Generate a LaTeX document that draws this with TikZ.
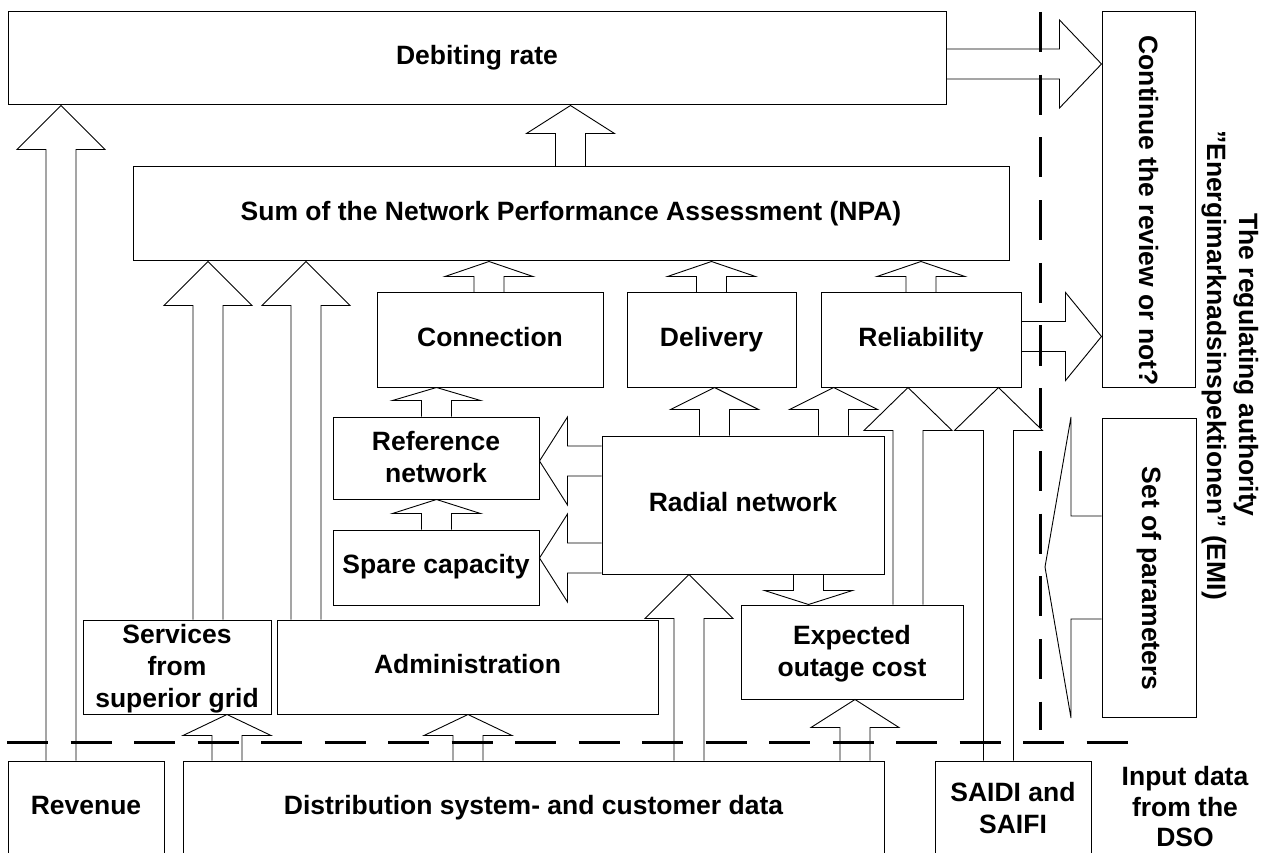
\documentclass[tikz,border=0pt]{standalone}
\usepackage{fontspec}
\setmainfont{Liberation Sans}
\usepackage{graphicx}
\usetikzlibrary{calc}

\newcommand\blkup[4]{\draw[blk] let \p1=(#2), \p2=(#3) in
    (#1-15,\y1) -- (#1-15,\y2-#4pt) -- (#1-44,\y2-#4pt) -- (#1,\y2)
    -- (#1+44,\y2-#4pt) -- (#1+15,\y2-#4pt) -- (#1+15,\y1);}
\newcommand\blkdown[4]{\draw[blk] let \p1=(#2), \p2=(#3) in
    (#1-15,\y1) -- (#1-15,\y2+#4pt) -- (#1-44,\y2+#4pt) -- (#1,\y2)
    -- (#1+44,\y2+#4pt) -- (#1+15,\y2+#4pt) -- (#1+15,\y1);}
\newcommand\blkleft[4]{\draw[blk] let \p1=(#2), \p2=(#3) in
    (\x1,#1-15) -- (\x2+#4pt,#1-15) -- (\x2+#4pt,#1-44) -- (\x2,#1)
    -- (\x2+#4pt,#1+44) -- (\x2+#4pt,#1+15) -- (\x1,#1+15);}
\newcommand\blkright[4]{\draw[blk] let \p1=(#2), \p2=(#3) in
    (\x1,#1-15) -- (\x2-#4pt,#1-15) -- (\x2-#4pt,#1-44) -- (\x2,#1)
    -- (\x2-#4pt,#1+44) -- (\x2-#4pt,#1+15) -- (\x1,#1+15);}
\newcommand\topgap{\rule{0pt}{27.5pt}}

\begin{document}
\begin{tikzpicture}
            [x=1pt, y=-1pt,
            lbl/.style={inner sep=0pt, align=center, font=\fontsize{26.5}{32}\selectfont\bfseries,
                execute at begin node=\strut, execute at end node={\vrule width 0pt depth 6.5pt}},
            box/.style={lbl, draw=black, line width=1pt},
            blk/.style={draw=black, line width=0.9pt, line join=miter},
            sep/.style={draw=black, line width=3pt}]

            \useasboundingbox (0,0) rectangle (1262,853);

            \node[box, minimum width=938pt, minimum height=93pt] (debit) at (477,58.5) {Debiting rate};
            \node[box, minimum width=876pt, minimum height=94pt] (npa) at (571,214) {Sum of the Network Performance Assessment (NPA)};
            \node[box, minimum width=226pt, minimum height=94pt] (conn) at (490,340) {Connection};
            \node[box, minimum width=169pt, minimum height=94pt] (deliv) at (711.5,340) {Delivery};
            \node[box, minimum width=200pt, minimum height=94pt] (relia) at (921,340) {Reliability};
            \node[box, minimum width=93pt, minimum height=375pt] (cont) at (1148.5,199.5) {\rotatebox{-90}{Continue the review or not?}};
            \node[box, minimum width=206pt, minimum height=82pt] (ref) at (436,458) {\topgap Reference\\network};
            \node[box, minimum width=206pt, minimum height=75pt] (spare) at (436,567.5) {Spare capacity};
            \node[box, minimum width=282pt, minimum height=138pt] (radial) at (743,505) {Radial network};
            \node[box, inner ysep=-4pt, minimum width=188pt, minimum height=94pt] (serv) at (177,667) {\topgap Services\\from\\superior grid};
            \node[box, minimum width=381pt, minimum height=94pt] (admin) at (467.5,667) {Administration};
            \node[box, minimum width=222pt, minimum height=94pt] (outage) at (852,652) {\topgap Expected\\outage cost};
            \node[box, minimum width=94pt, minimum height=299pt] (param) at (1149,567.5) {\rotatebox{-90}{Set of parameters}};
            \node[box, minimum width=156pt, minimum height=95pt] (rev) at (86,808.5) {Revenue};
            \node[box, minimum width=701pt, minimum height=95pt] (dist) at (533.5,808.5) {Distribution system- and customer data};
            \node[box, minimum width=156pt, minimum height=95pt] (saidi) at (1013,808.5) {\topgap SAIDI and\\SAIFI};
            \node[lbl, rotate=-90] (emi) at (1228,365) {The regulating authority\\”Energimarknadsinspektionen” (EMI)};
            \node[lbl, font=\fontsize{26.5}{30.5}\selectfont\bfseries] (dso) at (1185,811) {Input data\\from the\\DSO};
            \coordinate (ptip) at (1045,567);

            \blkup{61}{rev.north}{debit.south}{44}
            \blkup{570.5}{npa.north}{debit.south}{28}
            \blkup{208}{serv.north}{npa.south}{44}
            \blkup{306}{admin.north}{npa.south}{44}
            \blkup{489}{conn.north}{npa.south}{15}
            \blkup{711.5}{deliv.north}{npa.south}{15}
            \blkup{921}{relia.north}{npa.south}{15}
            \blkup{436.5}{ref.north}{conn.south}{13}
            \blkup{436.5}{spare.north}{ref.south}{14}
            \blkup{714.5}{radial.north}{deliv.south}{22}
            \blkup{833.5}{radial.north}{relia.south}{22}
            \blkup{908}{outage.north}{relia.south}{43}
            \blkup{998.5}{saidi.north}{relia.south}{43}
            \blkup{227}{dist.north}{serv.south}{21}
            \blkup{468}{dist.north}{admin.south}{21}
            \blkup{689}{dist.north}{radial.south}{44}
            \blkup{855}{dist.north}{outage.south}{28}
            \blkdown{808.5}{radial.south}{outage.north}{14}
            \blkleft{461}{radial.west}{ref.east}{28}
            \blkleft{558}{radial.west}{spare.east}{28}
            \blkright{64}{debit.east}{cont.west}{42}
            \blkright{336.5}{relia.east}{cont.west}{36}
            \draw[blk] let \p1=(param.west), \p2=(ptip) in
                (\x1,516) -- (\x2+26pt,516) -- (\x2+26pt,417) -- (\x2,\y2)
                -- (\x2+26pt,718) -- (\x2+26pt,619) -- (\x1,619);

            \draw[sep, dash pattern=on 41pt off 22.5pt] (7,742) -- (1129,742);
            \draw[sep, dash pattern=on 40pt off 22.7pt] (1040,12) -- (1040,730);

\end{tikzpicture}
\end{document}
